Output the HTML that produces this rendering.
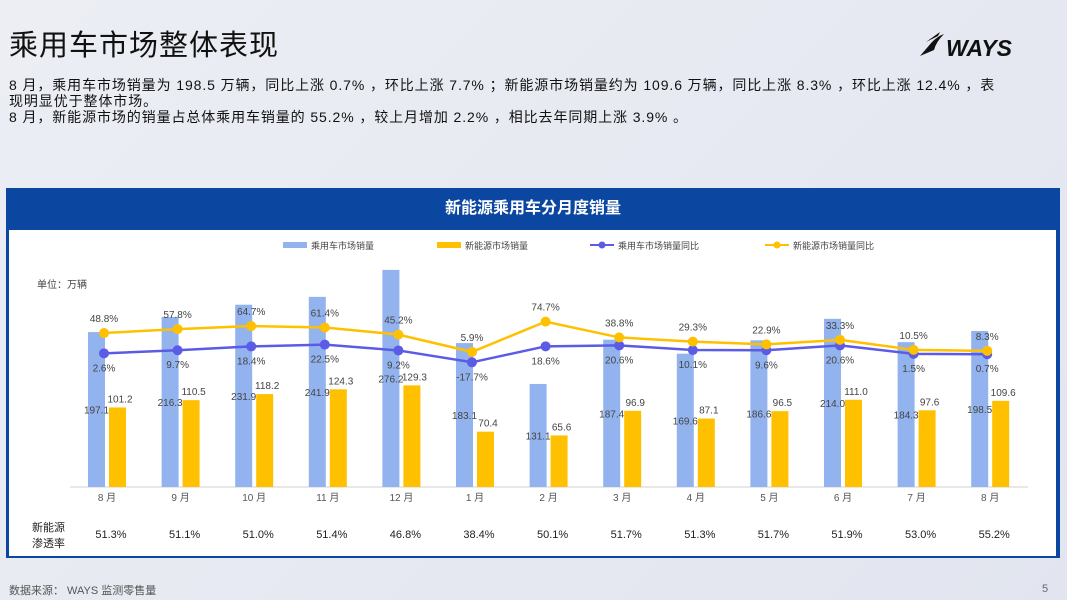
<!DOCTYPE html>
<html><head><meta charset="utf-8">
<style>
body{margin:0;width:1067px;height:600px;overflow:hidden;background:linear-gradient(135deg,#eceef4,#e2e5ef);font-family:"Liberation Sans","Noto Sans CJK SC",sans-serif;position:relative}
.abs{position:absolute}
</style></head><body>
<div class="abs" style="left:9px;top:22px;font-size:29px;color:#111;letter-spacing:1px">乘用车市场整体表现</div>
<div class="abs" style="left:918px;top:28px;width:100px;height:32px">
<svg width="100" height="32"><path d="M2 28 L14 14 Q20 8 26 6 Q18 14 16 22 Z M8 14 L22 4 L20 8 Z" fill="#111"/><text x="28" y="28" font-family="Liberation Sans" font-weight="bold" font-style="italic" font-size="23" fill="#111">WAYS</text></svg></div>
<div class="abs" style="left:9px;top:77px;width:1050px;font-size:14px;letter-spacing:0.9px;line-height:16px;color:#111;white-space:nowrap">8 月，乘用车市场销量为 198.5 万辆，同比上涨 0.7% ，环比上涨 7.7% ；新能源市场销量约为 109.6 万辆，同比上涨 8.3% ，环比上涨 12.4% ，表<br>现明显优于整体市场。<br>8 月，新能源市场的销量占总体乘用车销量的 55.2% ，较上月增加 2.2% ，相比去年同期上涨 3.9% 。</div>
<div class="abs" style="left:6px;top:188px;width:1054px;height:370px;background:#0b47a1"></div>
<div class="abs" style="left:6px;top:188px;width:1054px;height:42px;line-height:42px;text-align:center;color:#fff;font-size:16px;font-weight:bold">新能源乘用车分月度销量</div>
<div class="abs" style="left:9px;top:230px;width:1047px;height:326px;background:#fff"></div>
<svg class="abs" style="left:0;top:0" width="1067" height="600" id="chart"></svg>
<div class="abs" style="left:9px;top:582px;font-size:11px;color:#555">数据来源： WAYS 监测零售量</div>
<div class="abs" style="left:1042px;top:583px;font-size:11px;color:#666">5</div>
<script>
const months=["8 月","9 月","10 月","11 月","12 月","1 月","2 月","3 月","4 月","5 月","6 月","7 月","8 月"];
const totalSales=[197.1,216.3,231.9,241.9,276.2,183.1,131.1,187.4,169.6,186.6,214.0,184.3,198.5];
const nevSales=[101.2,110.5,118.2,124.3,129.3,70.4,65.6,96.9,87.1,96.5,111.0,97.6,109.6];
const totalYoY=[2.6,9.7,18.4,22.5,9.2,-17.7,18.6,20.6,10.1,9.6,20.6,1.5,0.7];
const nevYoY=[48.8,57.8,64.7,61.4,45.2,5.9,74.7,38.8,29.3,22.9,33.3,10.5,8.3];
const penetration=["51.3%","51.1%","51.0%","51.4%","46.8%","38.4%","50.1%","51.7%","51.3%","51.7%","51.9%","53.0%","55.2%"];
const svg=document.getElementById('chart');const NS="http://www.w3.org/2000/svg";
function mk(t,a,txt){const e=document.createElementNS(NS,t);for(const k in a)e.setAttribute(k,a[k]);if(txt!==undefined)e.textContent=txt;svg.appendChild(e);return e;}
const base=487;
const xC=i=>107+i*73.6;
const yB=v=>base-v*0.786;
const yL=v=>354.5-v*0.44;
const F='"Liberation Sans","Noto Sans CJK SC",sans-serif';
let ax=mk('line',{x1:70,x2:1028,y1:base,y2:base,stroke:'#d0d0d0','stroke-width':1});

let u=mk('text',{x:37,y:288,'font-size':10,fill:'#444','font-family':F},'单位：万辆');

months.forEach((m,i)=>{
 const cx=xC(i);
 let b=mk('rect',{x:cx-19,y:yB(totalSales[i]),width:17,height:base-yB(totalSales[i]),fill:'#92b3ee'});
 
 let y=mk('rect',{x:cx+2,y:yB(nevSales[i]),width:17,height:base-yB(nevSales[i]),fill:'#ffc000'});
 
 let t1=mk('text',{x:cx-10.5,y:(yB(totalSales[i])+base)/2+4,'font-size':10,fill:'#444','text-anchor':'middle','font-family':F},totalSales[i].toFixed(1));
 
 let t2=mk('text',{x:cx+13,y:yB(nevSales[i])-5,'font-size':10,fill:'#444','text-anchor':'middle','font-family':F},nevSales[i].toFixed(1));
 
 let ml=mk('text',{x:cx,y:501,'font-size':10,fill:'#555','text-anchor':'middle','font-family':F},m);
 
 let p=mk('text',{x:cx+4,y:538,'font-size':11,fill:'#222','text-anchor':'middle','font-family':F},penetration[i]);
 
});
function line(vals,color,name,above){
 const pts=vals.map((v,i)=>(xC(i)-3)+','+yL(v)).join(' ');
 let pl=mk('polyline',{points:pts,fill:'none',stroke:color,'stroke-width':2.5});
 
 vals.forEach((v,i)=>{
  let c=mk('circle',{cx:xC(i)-3,cy:yL(v),r:5,fill:color});
  
  let t=mk('text',{x:xC(i)-3,y:above?yL(v)-11:yL(v)+18,'font-size':10,fill:'#444','text-anchor':'middle','font-family':F},v.toFixed(1)+'%');
  
 });
}
line(totalYoY,'#5b5be6','total-yoy',false);
line(nevYoY,'#ffc000','nev-yoy',true);
const legs=[['乘用车市场销量','#92b3ee',283,'bar'],['新能源市场销量','#ffc000',437,'bar'],['乘用车市场销量同比','#5b5be6',590,'line'],['新能源市场销量同比','#ffc000',765,'line']];
legs.forEach(l=>{
 if(l[3]==='bar'){let r=mk('rect',{x:l[2],y:242,width:24,height:6,fill:l[1]});}
 else{let r=mk('line',{x1:l[2],x2:l[2]+24,y1:245,y2:245,stroke:l[1],'stroke-width':2});
  let c=mk('circle',{cx:l[2]+12,cy:245,r:3.5,fill:l[1]});}
 let t=mk('text',{x:l[2]+28,y:249,'font-size':9,fill:'#444','font-family':F},l[0]);
 
});
let r1=mk('text',{x:32,y:531,'font-size':11,fill:'#222','font-family':F},'新能源');

let r2=mk('text',{x:32,y:547,'font-size':11,fill:'#222','font-family':F},'渗透率');

</script>
</body></html>
